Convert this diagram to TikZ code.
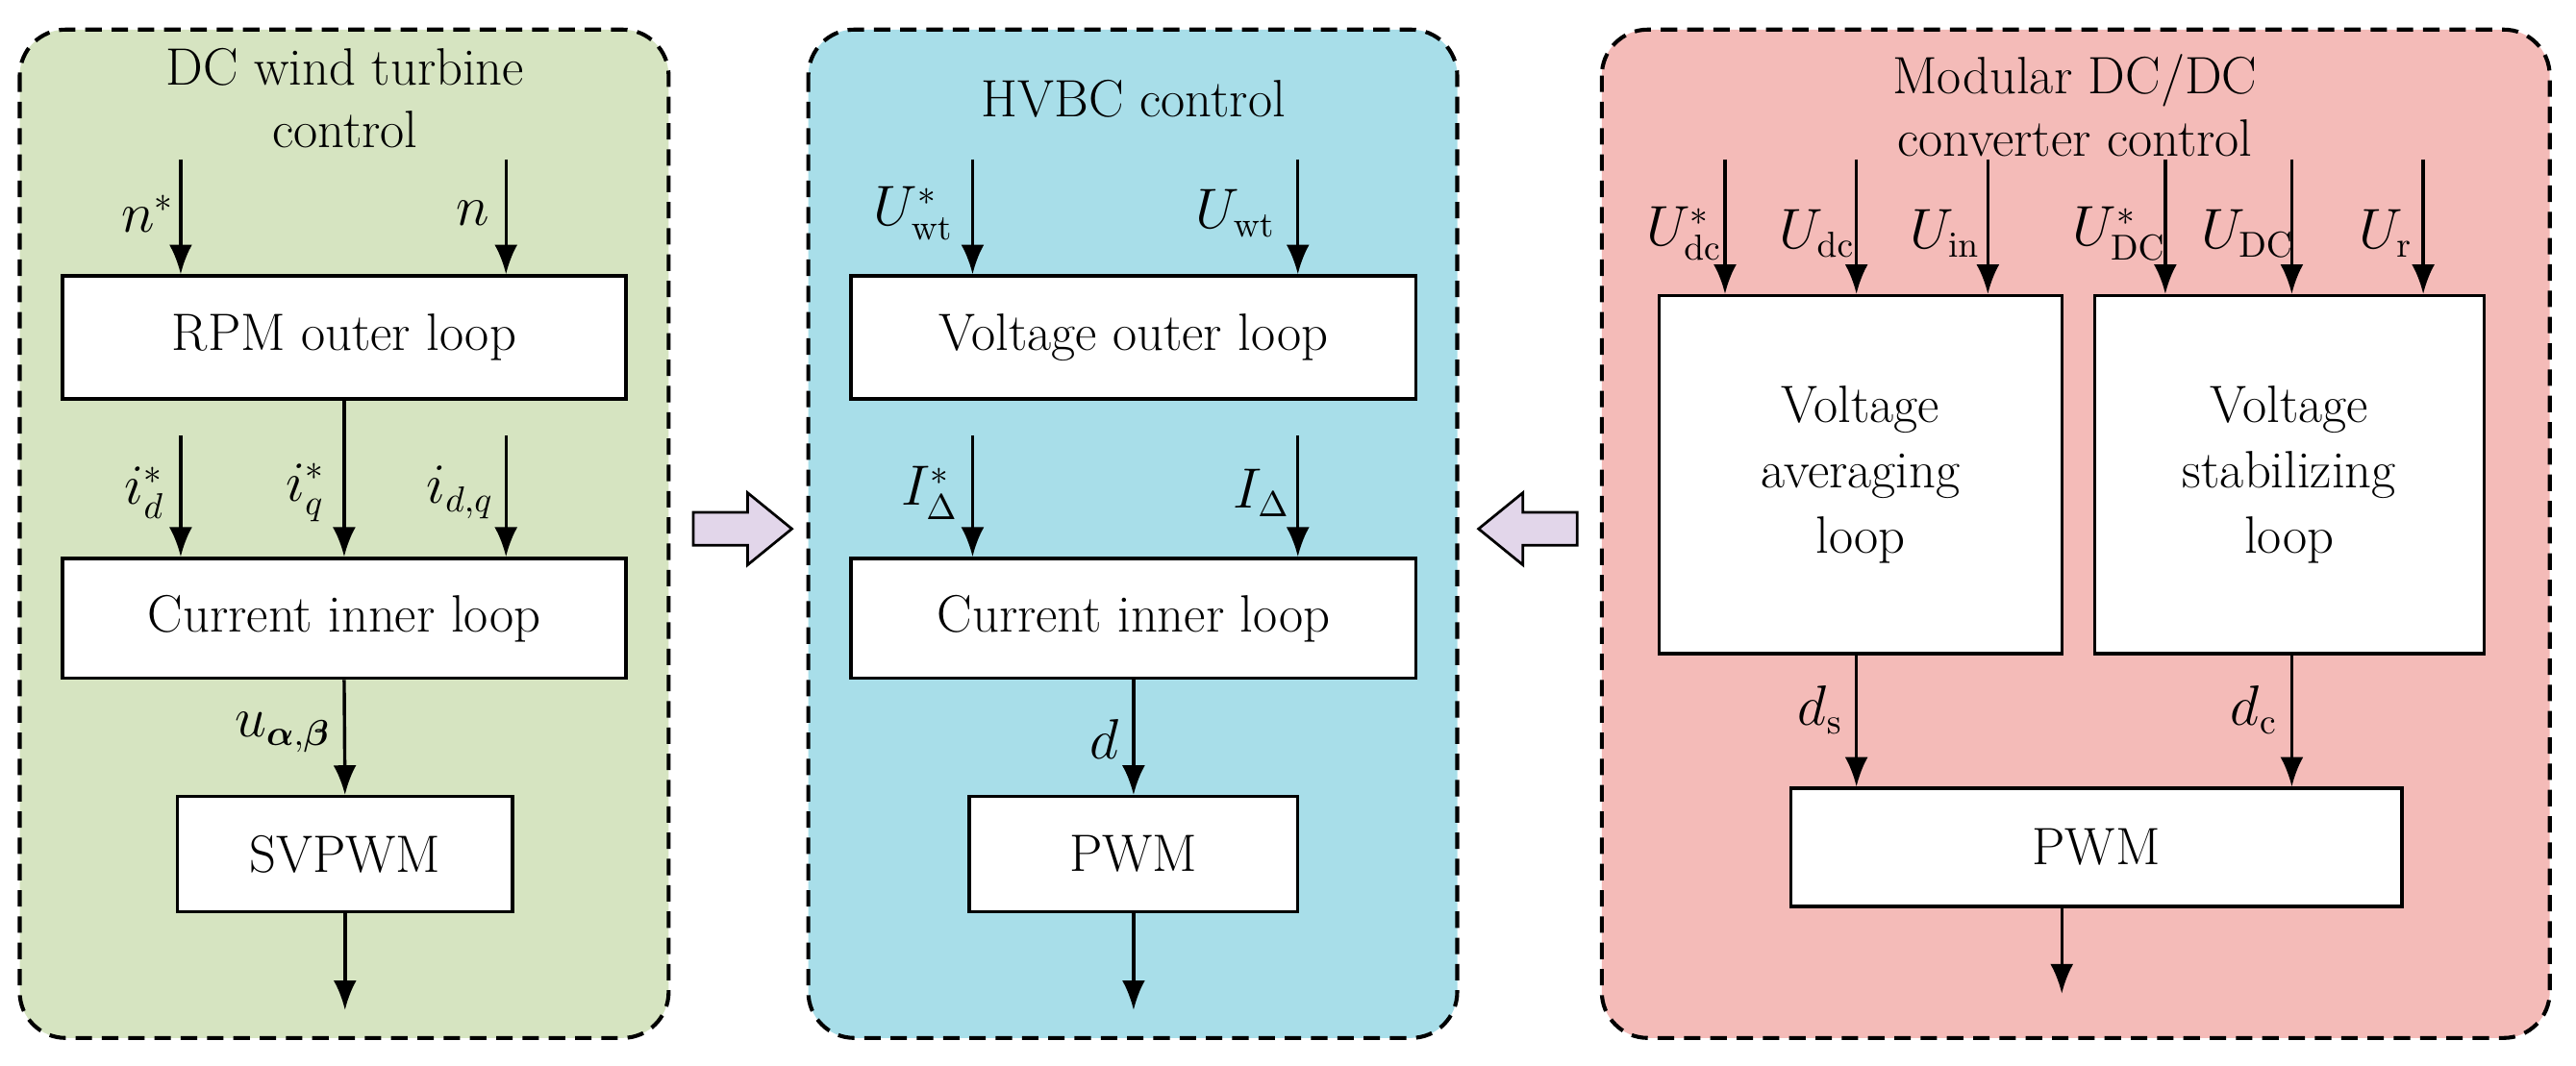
\documentclass[tikz,border=0pt]{standalone}
\usepackage{amsmath}
\begin{document}
\begin{tikzpicture}[x=0.5pt,y=-0.5pt,
  panel/.style={draw,dash pattern=on 5pt off 3pt,line width=1.2pt,rounded corners=14pt},
  blk/.style={draw,line width=1pt,fill=white,inner sep=0pt,align=center,font=\fontsize{16}{20}\selectfont},
  sig/.style={-{Latex[length=9pt,width=7pt]},line width=1pt},
  lab/.style={font=\fontsize{16}{18}\selectfont},
  ttl/.style={font=\fontsize{16}{19}\selectfont,align=center},
  barrow/.style={draw,line width=0.8pt,fill=pviolet}]
\usetikzlibrary{arrows.meta}
\useasboundingbox (0,0) rectangle (1568,649);
\definecolor{pgreen}{HTML}{D6E4C1}
\definecolor{pblue}{HTML}{A8DEE9}
\definecolor{ppink}{HTML}{F4BBB8}
\definecolor{pviolet}{HTML}{E2D6EA}
% panels
\draw[panel,fill=pgreen] (12,18) rectangle (407,632);
\draw[panel,fill=pblue] (492,18) rectangle (887,632);
\draw[panel,fill=ppink] (975,18) rectangle (1552,632);
\node[ttl] at (210,60) {DC wind turbine\\control};
\node[ttl] at (690,60) {HVBC control};
\node[ttl] at (1263,64) {Modular DC/DC\\converter control};
% panel 1
\node[blk,minimum width=171.5pt,minimum height=37.5pt] (rpm) at (209.5,205.5) {RPM outer loop};
\node[blk,minimum width=171.5pt,minimum height=36.5pt] (ci1) at (209.5,376.5) {Current inner loop};
\node[blk,minimum width=102pt,minimum height=35pt] (sv) at (210,520) {SVPWM};
\coordinate (n1) at (110,97); \coordinate (n2) at (308,97);
\coordinate (i1) at (110,265); \coordinate (i3) at (308,265);
\coordinate (o1) at (210,615);
\draw[sig] (n1) -- (n1|-rpm.north);
\draw[sig] (n2) -- (n2|-rpm.north);
\draw[sig] (i1) -- (i1|-ci1.north);
\draw[sig] (rpm.south) -- (ci1.north);
\draw[sig] (i3) -- (i3|-ci1.north);
\draw[sig] (ci1.south) -- (sv.north);
\draw[sig] (sv.south) -- (o1);
\node[lab] at (90,130) {$n^{*}$};
\node[lab] at (288,130) {$n$};
\node[lab] at (88,300) {$i_{d}^{*}$};
\node[lab] at (186,300) {$i_{q}^{*}$};
\node[lab] at (280,300) {$i_{d,q}$};
\node[lab] at (172,446) {$u_{\boldsymbol{\alpha},\boldsymbol{\beta}}$};
% panel 2
\node[blk,minimum width=172pt,minimum height=37.5pt] (vo) at (690,205.5) {Voltage outer loop};
\node[blk,minimum width=172pt,minimum height=36.5pt] (ci2) at (690,376.5) {Current inner loop};
\node[blk,minimum width=100pt,minimum height=35pt] (pw2) at (690,520) {PWM};
\coordinate (u1) at (592,97); \coordinate (u2) at (790,97);
\coordinate (d1) at (592,265); \coordinate (d2) at (790,265);
\coordinate (o2) at (690,615);
\draw[sig] (u1) -- (u1|-vo.north);
\draw[sig] (u2) -- (u2|-vo.north);
\draw[sig] (d1) -- (d1|-ci2.north);
\draw[sig] (d2) -- (d2|-ci2.north);
\draw[sig] (ci2.south) -- (pw2.north);
\draw[sig] (pw2.south) -- (o2);
\node[lab] at (556,130) {$U_{\mathrm{wt}}^{*}$};
\node[lab] at (752,130) {$U_{\mathrm{wt}}$};
\node[lab] at (566,300) {$I_{\Delta}^{*}$};
\node[lab] at (768,300) {$I_{\Delta}$};
\node[lab] at (672,450) {$d$};
% panel 3
\node[blk,minimum width=122.5pt,minimum height=109pt] (va) at (1132.5,289) {Voltage\\averaging\\loop};
\node[blk,minimum width=118.5pt,minimum height=109pt] (vs) at (1393.5,289) {Voltage\\stabilizing\\loop};
\node[blk,minimum width=186pt,minimum height=36pt] (pw3) at (1276,516) {PWM};
\foreach \x/\n in {1050/a,1130/b,1210/c,1318/d,1395/e,1475/f}
  \coordinate (t\n) at (\x,97);
\foreach \n in {a,b,c}
  \draw[sig] (t\n) -- (t\n|-va.north);
\foreach \n in {d,e,f}
  \draw[sig] (t\n) -- (t\n|-vs.north);
\coordinate (s1) at (1130,480); \coordinate (s2) at (1395,480);
\coordinate (o3) at (1255,605);
\draw[sig] (s1|-va.south) -- (s1|-pw3.north);
\draw[sig] (s2|-vs.south) -- (s2|-pw3.north);
\draw[sig] (o3|-pw3.south) -- (o3);
\node[lab] at (1025,142) {$U_{\mathrm{dc}}^{*}$};
\node[lab] at (1106,142) {$U_{\mathrm{dc}}$};
\node[lab] at (1184,142) {$U_{\mathrm{in}}$};
\node[lab] at (1290,142) {$U_{\mathrm{DC}}^{*}$};
\node[lab] at (1368,142) {$U_{\mathrm{DC}}$};
\node[lab] at (1452,142) {$U_{\mathrm{r}}$};
\node[lab] at (1108,432) {$d_{\mathrm{s}}$};
\node[lab] at (1372,432) {$d_{\mathrm{c}}$};
% block arrows
\draw[barrow] (422,312) -- (455,312) -- (455,300) -- (482,322) -- (455,344) -- (455,332) -- (422,332) -- cycle;
\draw[barrow] (960,312) -- (927,312) -- (927,300) -- (900,322) -- (927,344) -- (927,332) -- (960,332) -- cycle;
\end{tikzpicture}
\end{document}
